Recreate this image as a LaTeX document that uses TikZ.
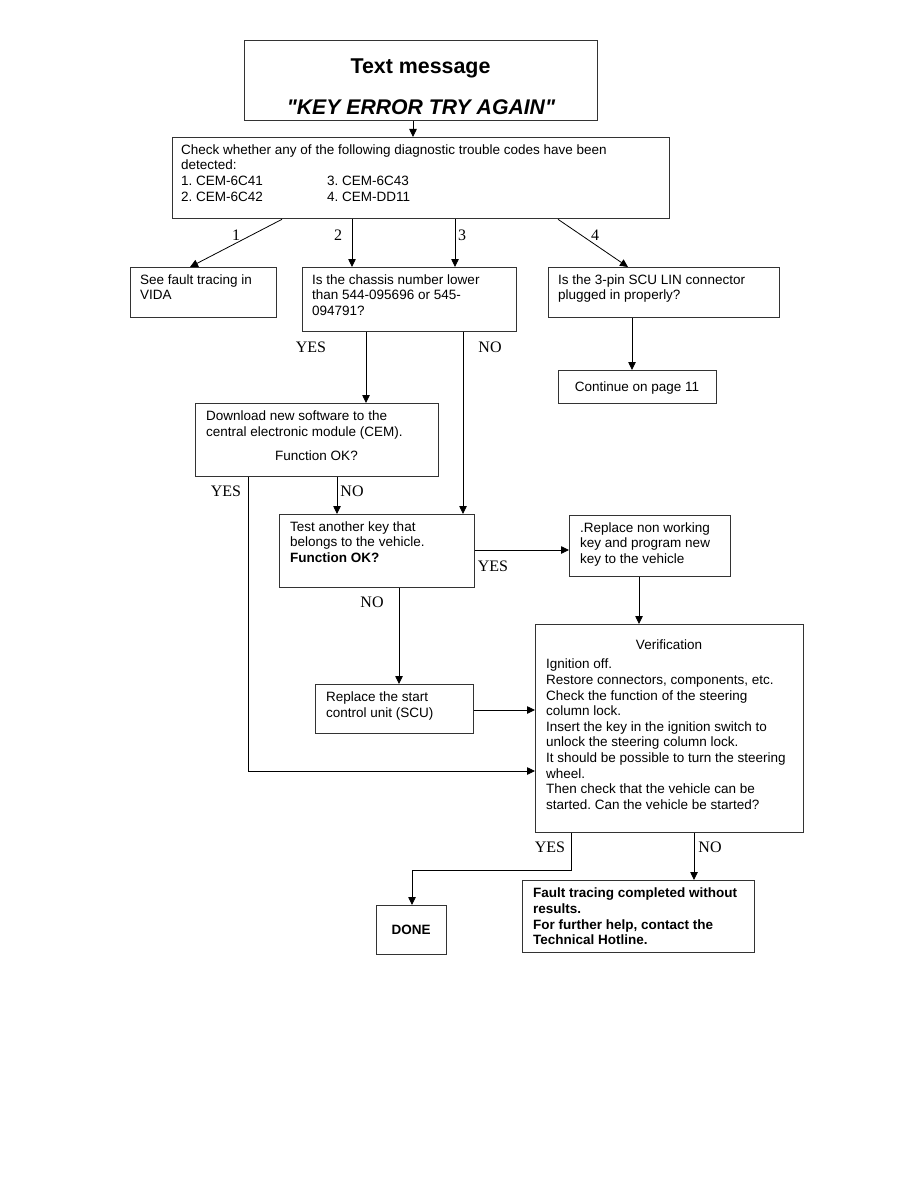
\documentclass[tikz,border=0pt]{standalone}
\usepackage{fontspec}
\setmainfont{Liberation Sans}
\newfontfamily\qfont{Liberation Sans}
\newfontfamily\lblserif{Liberation Serif}
\usetikzlibrary{arrows.meta}
\newcommand\myst{\rule{0pt}{9.9pt}}
\frenchspacing
\begin{document}
\begin{tikzpicture}[x=1pt,y=-1pt,
  box/.style={draw=black!80, line width=1.3pt, inner sep=0pt, anchor=north west},
  txt/.style={anchor=north west, inner sep=0pt, align=left, font=\fontsize{13.5}{15.65}\selectfont},
  ctxt/.style={inner sep=0pt, font=\fontsize{13.5}{15.65}\selectfont},
  lbl/.style={inner sep=0pt, font=\lblserif\fontsize{16}{18}\selectfont},
  arr/.style={-{Triangle[length=8pt,width=7.5pt]}, line width=0.8pt, black},
  ln/.style={line width=0.8pt, black}]
\useasboundingbox[fill=white] (0,0) rectangle (918,1188);

% boxes
\node[box, minimum width=353pt, minimum height=80pt] (title) at (244,40) {};
\node[box, minimum width=497pt, minimum height=81pt] (chk) at (172,137) {};
\node[box, minimum width=146pt, minimum height=50pt] (vida) at (130,267) {};
\node[box, minimum width=214pt, minimum height=64pt] (chass) at (302,267) {};
\node[box, minimum width=231pt, minimum height=50pt] (scu) at (548,267) {};
\node[box, minimum width=158pt, minimum height=33pt] (cont) at (558,370) {};
\node[box, minimum width=243pt, minimum height=73pt] (dl) at (195,403) {};
\node[box, minimum width=195pt, minimum height=73pt] (test) at (279,514) {};
\node[box, minimum width=161pt, minimum height=61pt] (rkey) at (569,515) {};
\node[box, minimum width=158pt, minimum height=49pt] (rscu) at (315,684) {};
\node[box, minimum width=268pt, minimum height=208pt] (ver) at (535,624) {};
\node[box, minimum width=70pt, minimum height=49pt] (done) at (376,905) {};
\node[box, minimum width=232pt, minimum height=72pt] (fault) at (522,880) {};

% texts
\node[inner sep=0pt, anchor=base, font=\bfseries\fontsize{21.4}{24}\selectfont] (t1) at (420.5,74) {Text message};
\node[inner sep=0pt, anchor=base, font=\qfont\bfseries\itshape\fontsize{21.2}{24}\selectfont] (t2) at (421,114.5) {"KEY ERROR TRY AGAIN"};
\node[txt] (chkt) at (181,144.1) {\myst Check whether any of the following diagnostic trouble codes have been\\detected:\\\makebox[146pt][l]{1. CEM-6C41}3. CEM-6C43\\\makebox[146pt][l]{2. CEM-6C42}4. CEM-DD11};
\node[txt] (vidat) at (140,274.1) {\myst See fault tracing in\\VIDA};
\node[txt] (chasst) at (312,274.1) {\myst Is the chassis number lower\\than 544-095696 or 545-\\094791?};
\node[txt] (scut) at (558,274.1) {\myst Is the 3-pin SCU LIN connector\\plugged in properly?};
\node[ctxt, anchor=base] (contt) at (637,391.5) {Continue on page 11};
\node[txt] (dlt) at (206,410.6) {\myst Download new software to the\\central electronic module (CEM).};
\node[ctxt, anchor=base] (dlt2) at (316.5,460.5) {Function OK?};
\node[txt] (testt) at (290,521.1) {\myst Test another key that\\belongs to the vehicle.\\\textbf{Function OK?}};
\node[txt] (rkeyt) at (580,522.1) {\myst .Replace non working\\key and program new\\key to the vehicle};
\node[txt] (rscut) at (326,691.6) {\myst Replace the start\\control unit (SCU)};
\node[ctxt, anchor=base] (vert) at (669,649.5) {Verification};
\node[txt] (vert2) at (546,658.6) {\myst Ignition off.\\Restore connectors, components, etc.\\Check the function of the steering\\column lock.\\Insert the key in the ignition switch to\\unlock the steering column lock.\\It should be possible to turn the steering\\wheel.\\Then check that the vehicle can be\\started. Can the vehicle be started?};
\node[ctxt, anchor=base, font=\bfseries\fontsize{13.5}{15.65}\selectfont] (donet) at (411,934) {DONE};
\node[txt, font=\bfseries\fontsize{13.5}{15.65}\selectfont] (faultt) at (533,887.6) {\myst Fault tracing completed without\\results.\\For further help, contact the\\Technical Hotline.};

% connectors
\draw[arr] ([xshift=169pt]title.south west) -- ([xshift=241pt]chk.north west);
\draw[arr] ([xshift=110pt]chk.south west) -- ([xshift=60pt]vida.north west);
\draw[arr] ([xshift=180pt]chk.south west) -- ([xshift=50pt]chass.north west);
\draw[arr] ([xshift=283pt]chk.south west) -- ([xshift=153pt]chass.north west);
\draw[arr] ([xshift=386pt]chk.south west) -- ([xshift=80pt]scu.north west);
\draw[arr] ([xshift=84pt]scu.south west) -- ([xshift=74pt]cont.north west);
\draw[arr] ([xshift=64pt]chass.south west) -- ([xshift=171pt]dl.north west);
\draw[arr] ([xshift=161pt]chass.south west) -- ([xshift=184pt]test.north west);
\draw[arr] ([xshift=142pt]dl.south west) -- ([xshift=58pt]test.north west);
\draw[arr] ([xshift=53pt]dl.south west) |- ([yshift=-147pt]ver.north west);
\coordinate (tY) at ([yshift=-36pt]test.north east);
\draw[arr] (tY) -- (tY -| rkey.west);
\draw[arr] ([xshift=70pt]rkey.south west) -- ([xshift=104pt]ver.north west);
\draw[arr] ([xshift=120pt]test.south west) -- ([xshift=84pt]rscu.north west);
\coordinate (sY) at ([yshift=-26pt]rscu.north east);
\draw[arr] (sY) -- (sY -| ver.west);
\draw[arr] ([xshift=36pt]ver.south west) -- ++(0,37) -| ([xshift=36pt]done.north west);
\draw[arr] ([xshift=159pt]ver.south west) -- ([xshift=172pt]fault.north west);

% labels
\node[lbl] (l1) at (236,235) {1};
\node[lbl] (l2) at (338,235) {2};
\node[lbl] (l3) at (462,235) {3};
\node[lbl] (l4) at (595,235) {4};
\node[lbl] (y1) at (311,347) {YES};
\node[lbl] (n1) at (490,347) {NO};
\node[lbl] (y2) at (226,491) {YES};
\node[lbl] (n2) at (352,491) {NO};
\node[lbl] (y3) at (493,566) {YES};
\node[lbl] (n3) at (372,602) {NO};
\node[lbl] (y4) at (550,847) {YES};
\node[lbl] (n4) at (710,847) {NO};
\end{tikzpicture}
\end{document}
